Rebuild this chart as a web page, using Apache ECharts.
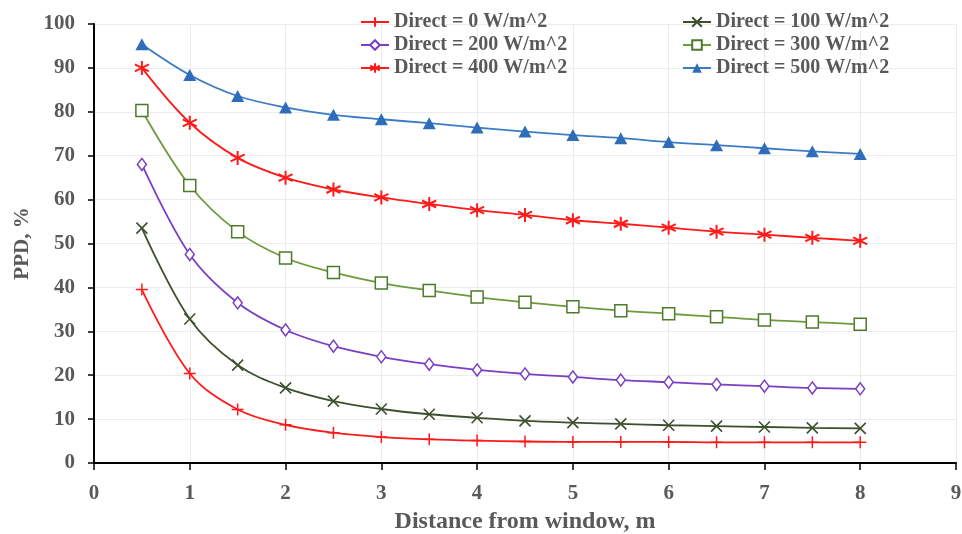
<!DOCTYPE html>
<html><head><meta charset="utf-8">
<script src="https://cdn.jsdelivr.net/npm/echarts@6/dist/echarts.min.js"></script>
<style>html,body{margin:0;padding:0;background:#fff}#c{width:962px;height:534px}</style>
</head><body><div id="c"></div>
<script>
const distances = [0.5,1,1.5,2,2.5,3,3.5,4,4.5,5,5.5,6,6.5,7,7.5,8];
const seriesNames = ['Direct = 0 W/m^2','Direct = 100 W/m^2','Direct = 200 W/m^2','Direct = 300 W/m^2','Direct = 400 W/m^2','Direct = 500 W/m^2'];
const direct0   = [39.5,20.4,12.2,8.7,6.9,5.9,5.4,5.1,4.9,4.8,4.8,4.8,4.7,4.7,4.7,4.7];
const direct100 = [53.5,32.8,22.3,17.1,14.1,12.3,11.1,10.3,9.6,9.2,8.9,8.6,8.4,8.2,8.0,7.9];
const direct200 = [68.0,47.5,36.5,30.3,26.6,24.2,22.5,21.2,20.3,19.6,18.9,18.4,17.9,17.5,17.1,16.9];
const direct300 = [80.3,63.2,52.7,46.7,43.4,41.0,39.3,37.8,36.6,35.6,34.7,34.0,33.3,32.6,32.1,31.6];
const direct400 = [90.0,77.5,69.5,65.0,62.3,60.5,59.0,57.6,56.5,55.3,54.5,53.6,52.7,52.0,51.3,50.6];
const direct500 = [95.4,88.4,83.6,81.0,79.3,78.3,77.4,76.4,75.5,74.7,74.0,73.1,72.4,71.7,71.0,70.4];
const xTicks = [0,1,2,3,4,5,6,7,8,9];
const yTicks = [0,10,20,30,40,50,60,70,80,90,100];

const allData = [direct0,direct100,direct200,direct300,direct400,direct500];
const lineColors = ['#FF1A1A','#3E4F2E','#7A3FC4','#6E9A3E','#FF1A1A','#3B7CC4'];
const markColors = ['#FF1A1A','#3E4F2E','#7A3FC4','#4E7A2A','#FF1A1A','#2F6DBA'];
const symbols = [
  'path://M0,5L10,5M5,0L5,10',
  'path://M0,0L10,10M10,0L0,10',
  'diamond',
  'rect',
  'path://M5,0L5,10M0.7,2.5L9.3,7.5M9.3,2.5L0.7,7.5',
  'triangle'
];
const sizes = [[12,12],[11,11],[9,12],[12,12],[14,14],[13,12]];
const fills = ['transparent','transparent','#fff','#fff','transparent','#2F6DBA'];
const bw = [1.5,1.6,1.5,1.5,2,0];

const series = allData.map((d,i)=>({
  name: seriesNames[i],
  type: 'line',
  smooth: 0.35,
  data: distances.map((x,j)=>[x,d[j]]),
  symbol: symbols[i],
  symbolSize: sizes[i],
  showAllSymbol: true,
  lineStyle: {color: lineColors[i], width: 1.8},
  itemStyle: {color: fills[i], borderColor: markColors[i], borderWidth: bw[i]},
  z: 2 + i
}));

const fontFamily = '"Liberation Serif","Times New Roman",serif';
const txt = {fontFamily, fontWeight:'bold', color:'#595959'};
const legText = Object.assign({fontSize: 20, lineHeight: 20, padding:[0,0,0,0]}, txt);

const chart = echarts.init(document.getElementById('c'), null, {renderer:'canvas'});
chart.setOption({
  backgroundColor: '#fff',
  animation: false,
  grid: {left: 94, right: 6, top: 24, bottom: 71, containLabel: false, outerBoundsMode: 'none'},
  legend: [
    {data:[seriesNames[0],seriesNames[2],seriesNames[4]], orient:'vertical', left: 355, top: 7, itemGap: 3, itemWidth: 28, itemHeight: 12, textStyle: legText},
    {data:[seriesNames[1],seriesNames[3],seriesNames[5]], orient:'vertical', left: 677, top: 7, itemGap: 3, itemWidth: 28, itemHeight: 12, textStyle: legText}
  ],
  xAxis: {
    type: 'value', min: xTicks[0], max: xTicks[xTicks.length-1], interval: 1,
    name: 'Distance from window, m', nameLocation: 'middle', nameGap: 47,
    nameTextStyle: Object.assign({fontSize: 24}, txt),
    axisLine: {show:true, onZero:false, lineStyle:{color:'#000', width:2}},
    axisTick: {show:true, length:7, lineStyle:{color:'#000', width:1.5}},
    axisLabel: Object.assign({fontSize: 21, margin: 20}, txt),
    splitLine: {show:true, lineStyle:{color:'#ECECEC', width:1}}
  },
  yAxis: {
    type: 'value', min: yTicks[0], max: yTicks[yTicks.length-1], interval: 10,
    name: 'PPD, %', nameLocation: 'middle', nameGap: 58, nameRotate: 90,
    nameTextStyle: Object.assign({fontSize: 21}, txt),
    axisLine: {show:true, lineStyle:{color:'#000', width:2}},
    axisTick: {show:true, length:6, lineStyle:{color:'#000', width:1.5}},
    axisLabel: Object.assign({fontSize: 21, margin: 19}, txt),
    splitLine: {show:true, lineStyle:{color:'#ECECEC', width:1}}
  },
  series
});
</script></body></html>
